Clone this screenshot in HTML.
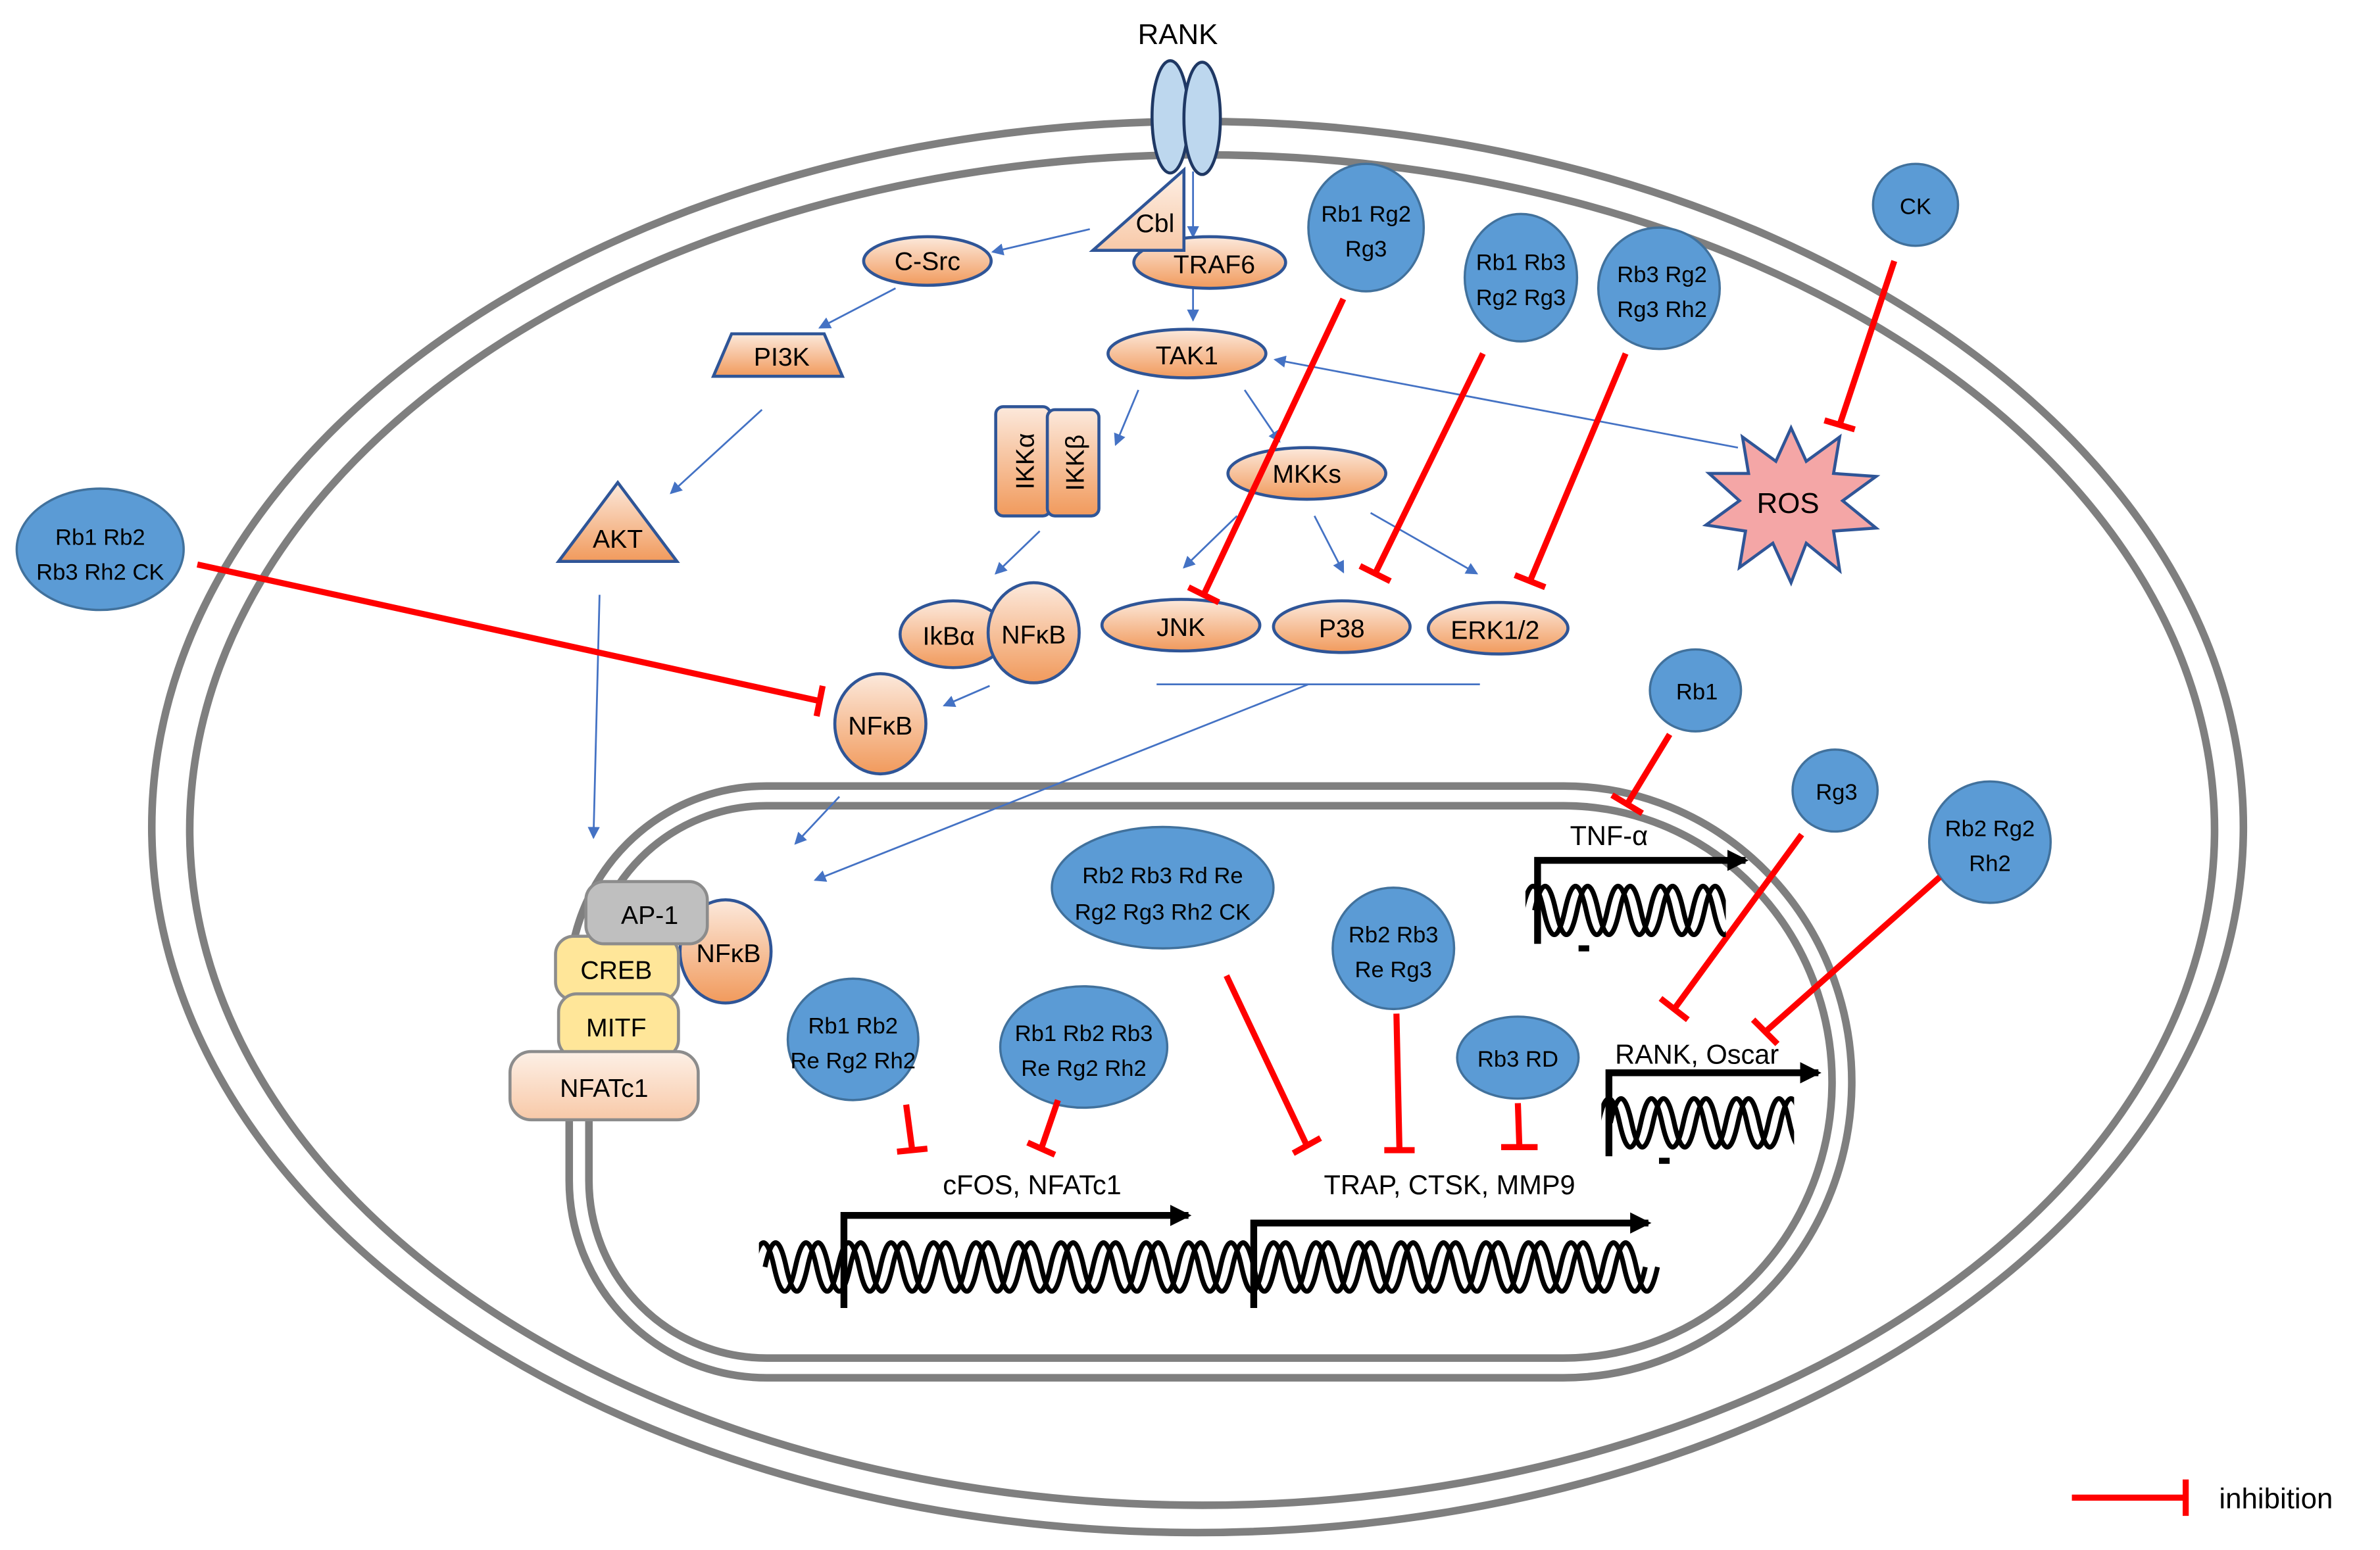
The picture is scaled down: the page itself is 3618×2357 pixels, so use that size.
<!DOCTYPE html>
<html><head><meta charset="utf-8"><style>
html,body{margin:0;padding:0;background:#fff}
svg{display:block}
text{font-family:"Liberation Sans",sans-serif}
</style></head><body>
<svg width="3618" height="2357" viewBox="0 0 1568 1021.5" xmlns="http://www.w3.org/2000/svg">
<defs>
<linearGradient id="og" x1="0" y1="0" x2="0" y2="1"><stop offset="0" stop-color="#fce9dc"/><stop offset="1" stop-color="#f19a5c"/></linearGradient>
<linearGradient id="pg" x1="0" y1="0" x2="0" y2="1"><stop offset="0" stop-color="#fdf0e6"/><stop offset="1" stop-color="#f8c9a8"/></linearGradient>
<marker id="ab" markerWidth="8" markerHeight="8" refX="7" refY="4" orient="auto" markerUnits="userSpaceOnUse"><path d="M0,0 L8,4 L0,8 z" fill="#4472c4"/></marker>
<marker id="ak" markerWidth="14" markerHeight="14" refX="12" refY="7" orient="auto" markerUnits="userSpaceOnUse"><path d="M0,0 L14,7 L0,14 z" fill="#000"/></marker>
<path id="h1" d="M0,0 q7,-32 14,0 t14,0 t14,0 t14,0 t14,0 t14,0 t14,0 t14,0 t14,0 t14,0 t14,0 t14,0 t14,0 t14,0 t14,0 t14,0 t14,0 t14,0 t14,0 t14,0 t14,0 t14,0 t14,0 t14,0 t14,0 t14,0 t14,0 t14,0 t14,0 t14,0 t14,0 t14,0 t14,0 t14,0 t14,0 t14,0 t14,0 t14,0 t14,0 t14,0 t14,0 t14,0"/>
<clipPath id="c1"><rect x="500" y="810" width="600" height="50"/></clipPath>
<clipPath id="c2"><rect x="1005" y="575" width="132" height="50"/></clipPath>
<clipPath id="c3"><rect x="1055" y="715" width="127" height="50"/></clipPath>
</defs>
<!-- cell membrane -->
<ellipse cx="789" cy="545" rx="689" ry="465" fill="none" stroke="#7f7f7f" stroke-width="5"/>
<ellipse cx="792" cy="547" rx="667" ry="445" fill="none" stroke="#7f7f7f" stroke-width="5"/>
<!-- nucleus -->
<path d="M505,518 H1030 A190 195 0 0 1 1220 713 A190 195 0 0 1 1030 908 H505 A130 130 0 0 1 375 778 V648 A130 130 0 0 1 505 518 Z" fill="none" stroke="#7f7f7f" stroke-width="5"/>
<path d="M505,531 H1030 A177 182 0 0 1 1207 713 A177 182 0 0 1 1030 895 H505 A117 117 0 0 1 388 778 V648 A117 117 0 0 1 505 531 Z" fill="none" stroke="#7f7f7f" stroke-width="5"/>
<!-- RANK -->
<text x="776" y="29" font-size="19" text-anchor="middle">RANK</text>
<ellipse cx="771" cy="77" rx="12" ry="37" fill="#bdd7ee" stroke="#1f3864" stroke-width="2"/>
<ellipse cx="792" cy="78" rx="12" ry="37" fill="#bdd7ee" stroke="#1f3864" stroke-width="2"/>
<!-- blue arrows -->
<g stroke="#4472c4" stroke-width="1.2" fill="none" marker-end="url(#ab)">
<line x1="786" y1="113" x2="786" y2="156"/>
<line x1="718" y1="151" x2="654" y2="166"/>
<line x1="590" y1="190" x2="540" y2="216"/>
<line x1="502" y1="270" x2="442" y2="325"/>
<line x1="395" y1="392" x2="391" y2="552"/>
<line x1="786" y1="190" x2="786" y2="211"/>
<line x1="750" y1="257" x2="735" y2="293"/>
<line x1="820" y1="257" x2="843" y2="291"/>
<line x1="685" y1="350" x2="656" y2="378"/>
<line x1="652" y1="452" x2="622" y2="465"/>
<line x1="553" y1="525" x2="524" y2="556"/>
<line x1="815" y1="340" x2="780" y2="374"/>
<line x1="866" y1="340" x2="885" y2="377"/>
<line x1="903" y1="338" x2="973" y2="378"/>
<line x1="1145" y1="295" x2="840" y2="237"/>
<line x1="862" y1="451" x2="537" y2="580"/>
</g>
<line x1="762" y1="451" x2="975" y2="451" stroke="#4472c4" stroke-width="1.2"/>
<!-- Cbl / TRAF6 -->
<ellipse cx="797" cy="173" rx="50" ry="17" fill="url(#og)" stroke="#2f5597" stroke-width="2"/>
<text x="800" y="180" font-size="17" text-anchor="middle">TRAF6</text>
<polygon points="720,165 780,112 780,165" fill="url(#pg)" stroke="#2f5597" stroke-width="2"/>
<text x="761" y="153" font-size="17" text-anchor="middle">Cbl</text>
<ellipse cx="611" cy="172" rx="42" ry="16" fill="url(#og)" stroke="#2f5597" stroke-width="2"/>
<text x="611" y="178" font-size="17" text-anchor="middle">C-Src</text>
<polygon points="470,248 555,248 543,220 482,220" fill="url(#og)" stroke="#2f5597" stroke-width="2"/>
<text x="515" y="241" font-size="17" text-anchor="middle">PI3K</text>
<polygon points="368,370 446,370 407,318" fill="url(#og)" stroke="#2f5597" stroke-width="2"/>
<text x="407" y="361" font-size="17" text-anchor="middle">AKT</text>
<ellipse cx="782" cy="233" rx="52" ry="16" fill="url(#og)" stroke="#2f5597" stroke-width="2"/>
<text x="782" y="240" font-size="17" text-anchor="middle">TAK1</text>
<rect x="656" y="268" width="36" height="72" rx="5" fill="url(#og)" stroke="#2f5597" stroke-width="2"/>
<rect x="690" y="270" width="34" height="70" rx="5" fill="url(#og)" stroke="#2f5597" stroke-width="2"/>
<text transform="translate(681,304) rotate(-90)" font-size="17" text-anchor="middle">IKKα</text>
<text transform="translate(714,305) rotate(-90)" font-size="17" text-anchor="middle">IKKβ</text>
<ellipse cx="861" cy="312" rx="52" ry="17" fill="url(#og)" stroke="#2f5597" stroke-width="2"/>
<text x="861" y="318" font-size="17" text-anchor="middle">MKKs</text>
<ellipse cx="778" cy="412" rx="52" ry="17" fill="url(#og)" stroke="#2f5597" stroke-width="2"/>
<text x="778" y="419" font-size="17" text-anchor="middle">JNK</text>
<ellipse cx="884" cy="413" rx="45" ry="17" fill="url(#og)" stroke="#2f5597" stroke-width="2"/>
<text x="884" y="420" font-size="17" text-anchor="middle">P38</text>
<ellipse cx="987" cy="414" rx="46" ry="17" fill="url(#og)" stroke="#2f5597" stroke-width="2"/>
<text x="985" y="421" font-size="17" text-anchor="middle">ERK1/2</text>
<ellipse cx="628" cy="418" rx="35" ry="22" fill="url(#og)" stroke="#2f5597" stroke-width="2"/>
<text x="625" y="425" font-size="17" text-anchor="middle">IkBα</text>
<ellipse cx="681" cy="417" rx="30" ry="33" fill="url(#og)" stroke="#2f5597" stroke-width="2"/>
<text x="681" y="424" font-size="17" text-anchor="middle">NFκB</text>
<ellipse cx="580" cy="477" rx="30" ry="33" fill="url(#og)" stroke="#2f5597" stroke-width="2"/>
<text x="580" y="484" font-size="17" text-anchor="middle">NFκB</text>
<!-- ROS -->
<polygon points="1180,282 1190,304 1212,288 1208,312 1236,314 1214,330 1236,348 1208,350 1212,376 1190,358 1180,384 1168,358 1146,374 1150,350 1124,346 1146,330 1126,312 1152,312 1148,288 1170,304" fill="#f4a6a6" stroke="#2f5597" stroke-width="2"/>
<text x="1178" y="338" font-size="19" text-anchor="middle">ROS</text>
<!-- transcription factors -->
<ellipse cx="478" cy="627" rx="30" ry="34" fill="url(#og)" stroke="#2f5597" stroke-width="2"/>
<text x="480" y="634" font-size="17" text-anchor="middle">NFκB</text>
<rect x="366" y="617" width="81" height="42" rx="12" fill="#ffe699" stroke="#8c8c8c" stroke-width="2"/>
<text x="406" y="645" font-size="17" text-anchor="middle">CREB</text>
<rect x="368" y="655" width="79" height="42" rx="12" fill="#ffe699" stroke="#8c8c8c" stroke-width="2"/>
<text x="406" y="683" font-size="17" text-anchor="middle">MITF</text>
<rect x="336" y="693" width="124" height="45" rx="14" fill="url(#pg)" stroke="#8c8c8c" stroke-width="2"/>
<text x="398" y="723" font-size="17" text-anchor="middle">NFATc1</text>
<rect x="386" y="581" width="80" height="41" rx="12" fill="#bfbfbf" stroke="#8c8c8c" stroke-width="2"/>
<text x="428" y="609" font-size="17" text-anchor="middle">AP-1</text>
<!-- blue inhibitor nodes -->
<g fill="#5b9bd5" stroke="#41719c" stroke-width="1.5">
<ellipse cx="900" cy="150" rx="38" ry="42"/>
<ellipse cx="1002" cy="183" rx="37" ry="42"/>
<ellipse cx="1093" cy="190" rx="40" ry="40"/>
<ellipse cx="1262" cy="135" rx="28" ry="27"/>
<ellipse cx="66" cy="362" rx="55" ry="40"/>
<ellipse cx="1117" cy="455" rx="30" ry="27"/>
<ellipse cx="1209" cy="521" rx="28" ry="27"/>
<ellipse cx="1311" cy="555" rx="40" ry="40"/>
<ellipse cx="766" cy="585" rx="73" ry="40"/>
<ellipse cx="918" cy="625" rx="40" ry="40"/>
<ellipse cx="562" cy="685" rx="43" ry="40"/>
<ellipse cx="714" cy="690" rx="55" ry="40"/>
<ellipse cx="1000" cy="697" rx="40" ry="27"/>
</g>
<g font-size="15" text-anchor="middle" fill="#000">
<text x="900" y="146">Rb1 Rg2</text><text x="900" y="169">Rg3</text>
<text x="1002" y="178">Rb1 Rb3</text><text x="1002" y="201">Rg2 Rg3</text>
<text x="1095" y="186">Rb3 Rg2</text><text x="1095" y="209">Rg3 Rh2</text>
<text x="1262" y="141">CK</text>
<text x="66" y="359">Rb1 Rb2</text><text x="66" y="382">Rb3 Rh2 CK</text>
<text x="1118" y="461">Rb1</text>
<text x="1210" y="527">Rg3</text>
<text x="1311" y="551">Rb2 Rg2</text><text x="1311" y="574">Rh2</text>
<text x="766" y="582">Rb2 Rb3 Rd Re</text><text x="766" y="606">Rg2 Rg3 Rh2 CK</text>
<text x="918" y="621">Rb2 Rb3</text><text x="918" y="644">Re Rg3</text>
<text x="562" y="681">Rb1 Rb2</text><text x="562" y="704">Re Rg2 Rh2</text>
<text x="714" y="686">Rb1 Rb2 Rb3</text><text x="714" y="709">Re Rg2 Rh2</text>
<text x="1000" y="703">Rb3 RD</text>
</g>
<!-- inhibition lines -->
<g stroke="#ff0000" stroke-width="4" fill="none">
<line x1="130" y1="372" x2="540" y2="462"/><line x1="542" y1="452" x2="538" y2="472"/>
<line x1="885" y1="197" x2="793" y2="392"/><line x1="783" y1="387" x2="803" y2="397"/>
<line x1="977" y1="233" x2="906" y2="378"/><line x1="896" y1="373" x2="916" y2="383"/>
<line x1="1071" y1="233" x2="1008" y2="383"/><line x1="998" y1="379" x2="1018" y2="387"/>
<line x1="1248" y1="172" x2="1212" y2="280"/><line x1="1202" y1="277" x2="1222" y2="283"/>
<line x1="1100" y1="484" x2="1072" y2="530"/><line x1="1062" y1="524" x2="1082" y2="536"/>
<line x1="1187" y1="550" x2="1103" y2="665"/><line x1="1094" y1="658" x2="1112" y2="672"/>
<line x1="1278" y1="578" x2="1163" y2="680"/><line x1="1155" y1="672" x2="1171" y2="688"/>
<line x1="597" y1="728" x2="601" y2="758"/><line x1="591" y1="759" x2="611" y2="757"/>
<line x1="697" y1="725" x2="686" y2="757"/><line x1="677" y1="753" x2="695" y2="761"/>
<line x1="808" y1="643" x2="861" y2="755"/><line x1="852" y1="760" x2="870" y2="750"/>
<line x1="920" y1="668" x2="922" y2="758"/><line x1="912" y1="758" x2="932" y2="758"/>
<line x1="1000" y1="727" x2="1001" y2="756"/><line x1="989" y1="756" x2="1013" y2="756"/>
<line x1="1365" y1="987" x2="1440" y2="987"/><line x1="1440" y1="975" x2="1440" y2="999"/>
</g>
<text x="1462" y="994" font-size="19">inhibition</text>
<!-- genes -->
<g font-size="18" text-anchor="middle">
<text x="1060" y="557">TNF-α</text>
<text x="1118" y="701">RANK, Oscar</text>
<text x="680" y="787">cFOS, NFATc1</text>
<text x="955" y="787">TRAP, CTSK, MMP9</text>
</g>
<!-- DNA -->
<g stroke="#000" stroke-width="3.2" fill="none">
<g clip-path="url(#c1)"><use href="#h1" x="496" y="835"/><use href="#h1" x="504" y="835"/></g>
<g clip-path="url(#c2)"><use href="#h1" x="1003" y="600"/><use href="#h1" x="1011" y="600"/></g>
<g clip-path="url(#c3)"><use href="#h1" x="1053" y="740"/><use href="#h1" x="1061" y="740"/></g>
</g>
<g stroke="#000" stroke-width="4.5" fill="none" marker-end="url(#ak)">
<polyline points="1013,622 1013,567 1150,567"/>
<polyline points="1060,762 1060,707 1198,707"/>
<polyline points="556,862 556,801 783,801"/>
<polyline points="826,862 826,806 1086,806"/>
</g>
<g fill="#000"><rect x="1040" y="623" width="7" height="4"/><rect x="1093" y="763" width="7" height="4"/></g>
</svg>
</body></html>
